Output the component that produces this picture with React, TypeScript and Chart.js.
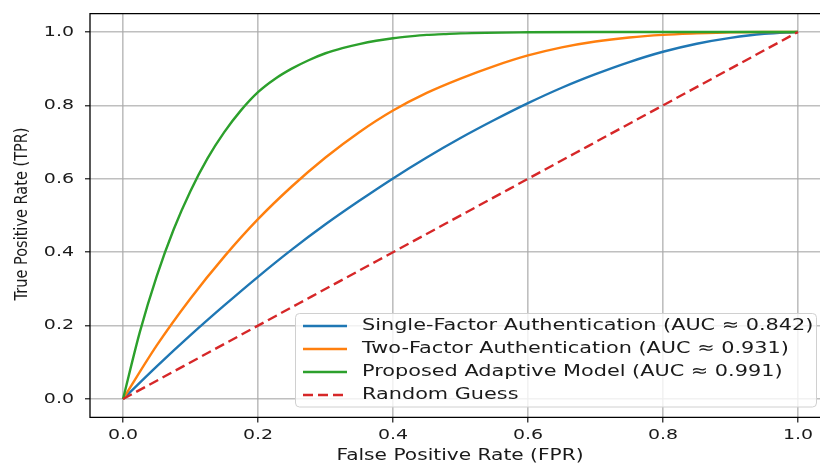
import React, { useEffect, useRef } from 'react';
import { Chart, registerables } from 'chart.js';

Chart.register(...registerables);

// ---- data ----
const tickValues = [0, 0.2, 0.4, 0.6, 0.8, 1.0];
const tickLabels = ['0.0', '0.2', '0.4', '0.6', '0.8', '1.0'];

const fprSingle = [0, 0.05, 0.1, 0.15, 0.2, 0.25, 0.3, 0.35, 0.4, 0.45, 0.5, 0.55, 0.6, 0.65, 0.7, 0.75, 0.8, 0.85, 0.9, 0.95, 1.0];
const tprSingle = [0, 0.089, 0.174, 0.255, 0.333, 0.407, 0.476, 0.540, 0.601, 0.658, 0.711, 0.760, 0.806, 0.848, 0.885, 0.918, 0.946, 0.968, 0.984, 0.995, 1.0];

const fprTwo = [0, 0.05, 0.1, 0.15, 0.2, 0.25, 0.3, 0.35, 0.4, 0.45, 0.5, 0.55, 0.6, 0.65, 0.7, 0.75, 0.8, 0.85, 0.9, 0.95, 1.0];
const tprTwo = [0, 0.146, 0.274, 0.388, 0.490, 0.579, 0.658, 0.727, 0.786, 0.834, 0.873, 0.907, 0.936, 0.958, 0.974, 0.985, 0.992, 0.996, 0.999, 1.0, 1.0];

const fprAdaptive = [0, 0.025, 0.05, 0.075, 0.1, 0.125, 0.15, 0.175, 0.2, 0.225, 0.25, 0.275, 0.3, 0.325, 0.35, 0.375, 0.4, 0.425, 0.45, 0.475, 0.5, 0.6, 0.7, 0.8, 0.9, 1.0];
const tprAdaptive = [0, 0.183, 0.335, 0.462, 0.567, 0.655, 0.727, 0.787, 0.836, 0.872, 0.900, 0.923, 0.942, 0.956, 0.967, 0.976, 0.983, 0.988, 0.992, 0.994, 0.996, 0.999, 1.0, 1.0, 1.0, 1.0];

const fprRandom = [0, 1];
const tprRandom = [0, 1];

const seriesLabels = [
  'Single-Factor Authentication (AUC \u2248 0.842)',
  'Two-Factor Authentication (AUC \u2248 0.931)',
  'Proposed Adaptive Model (AUC \u2248 0.991)',
  'Random Guess',
];
const seriesColors = ['#1f77b4', '#ff7f0e', '#2ca02c', '#d62728'];

const xTitle = 'False Positive Rate (FPR)';
const yTitle = 'True Positive Rate (TPR)';

const FONT = "'DejaVu Sans', sans-serif";
const STRETCH = 1.3;

function pts(xs: number[], ys: number[]) {
  return xs.map((x, i) => ({ x, y: ys[i] }));
}

function drawText(ctx: CanvasRenderingContext2D, text: string, x: number, y: number, size: number, sx: number, align: CanvasTextAlign, rot = 0) {
  ctx.save();
  ctx.translate(x, y);
  if (rot) ctx.rotate(rot);
  ctx.scale(sx, 1);
  ctx.font = `${size}px ${FONT}`;
  ctx.fillStyle = '#1a1a1a';
  ctx.textAlign = align;
  ctx.textBaseline = 'middle';
  ctx.fillText(text, 0, 0);
  ctx.restore();
}

const decorPlugin = {
  id: 'decor',
  afterDatasetsDraw(chart: any) {
    const { ctx, chartArea: a } = chart;
    ctx.save();
    ctx.strokeStyle = '#000';
    ctx.lineWidth = 1.3;
    ctx.beginPath();
    ctx.moveTo(a.right + 2, a.top);
    ctx.lineTo(a.left, a.top);
    ctx.lineTo(a.left, a.bottom);
    ctx.lineTo(a.right + 2, a.bottom);
    ctx.stroke();
    ctx.restore();
  },
  afterDraw(chart: any) {
    const { ctx, chartArea: a, scales } = chart;
    // tick labels
    tickValues.forEach((v, i) => {
      drawText(ctx, tickLabels[i], scales.x.getPixelForValue(v), a.bottom + 17.5, 14.6, STRETCH, 'center');
      drawText(ctx, tickLabels[i], a.left - 16, scales.y.getPixelForValue(v), 14.6, STRETCH, 'right');
    });
    // axis titles
    drawText(ctx, xTitle, 460, 456, 15.5, STRETCH, 'center');
    drawText(ctx, yTitle, 22, 214, 17.5, 0.83, 'center', -Math.PI / 2);

    // legend
    const bx = 295.5, by = 313.5, bw = 521, bh = 93.5, r = 4;
    ctx.save();
    ctx.beginPath();
    ctx.moveTo(bx + r, by);
    ctx.lineTo(bx + bw - r, by);
    ctx.quadraticCurveTo(bx + bw, by, bx + bw, by + r);
    ctx.lineTo(bx + bw, by + bh - r);
    ctx.quadraticCurveTo(bx + bw, by + bh, bx + bw - r, by + bh);
    ctx.lineTo(bx + r, by + bh);
    ctx.quadraticCurveTo(bx, by + bh, bx, by + bh - r);
    ctx.lineTo(bx, by + r);
    ctx.quadraticCurveTo(bx, by, bx + r, by);
    ctx.closePath();
    ctx.fillStyle = 'rgba(255,255,255,0.8)';
    ctx.fill();
    ctx.strokeStyle = '#d0d0d0';
    ctx.lineWidth = 1;
    ctx.stroke();
    ctx.restore();

    chart.data.datasets.forEach((ds: any, i: number) => {
      const y = 326 + i * 23;
      ctx.save();
      ctx.strokeStyle = ds.borderColor;
      ctx.lineWidth = 2.3;
      ctx.setLineDash(ds.borderDash || []);
      ctx.beginPath();
      ctx.moveTo(303, y);
      ctx.lineTo(347, y);
      ctx.stroke();
      ctx.restore();
      drawText(ctx, ds.label, 362, y, 16, STRETCH, 'left');
    });
  },
};

export default function App() {
  const ref = useRef<HTMLCanvasElement>(null);
  useEffect(() => {
    document.body.style.margin = '0';
    const canvas = ref.current;
    if (!canvas) return;
    const gridColor = 'rgba(170,170,170,0.75)';
    const mkDs = (label: string, color: string, data: any[], order: number, dash?: number[]) => ({
      label,
      data,
      borderColor: color,
      backgroundColor: color,
      borderWidth: 2.4,
      borderDash: dash,
      pointRadius: 0,
      fill: false,
      order,
      cubicInterpolationMode: 'monotone' as const,
    });
    const chart = new Chart(canvas, {
      type: 'line',
      data: {
        datasets: [
          mkDs(seriesLabels[0], seriesColors[0], pts(fprSingle, tprSingle), 3),
          mkDs(seriesLabels[1], seriesColors[1], pts(fprTwo, tprTwo), 2),
          mkDs(seriesLabels[2], seriesColors[2], pts(fprAdaptive, tprAdaptive), 1),
          mkDs(seriesLabels[3], seriesColors[3], pts(fprRandom, tprRandom), 0, [10, 5]),
        ],
      },
      options: {
        responsive: false,
        animation: false,
        devicePixelRatio: 1,
        layout: { padding: { left: 0, top: 13.6, right: 0, bottom: 0 } },
        plugins: { legend: { display: false }, tooltip: { enabled: false } },
        scales: {
          x: {
            type: 'linear',
            min: -0.0489,
            max: 1.0326,
            afterBuildTicks: (s: any) => { s.ticks = tickValues.map((v) => ({ value: v })); },
            afterFit: (s: any) => { s.height = 46.6; },
            ticks: { display: false },
            grid: { color: gridColor, lineWidth: 1.6, drawTicks: true, tickLength: 5, tickColor: '#000', tickWidth: 1.1 },
            border: { display: false },
          },
          y: {
            type: 'linear',
            min: -0.05,
            max: 1.05,
            afterBuildTicks: (s: any) => { s.ticks = tickValues.map((v) => ({ value: v })); },
            afterFit: (s: any) => { s.width = 90; },
            ticks: { display: false },
            grid: { color: gridColor, lineWidth: 1.6, drawTicks: true, tickLength: 5, tickColor: '#000', tickWidth: 1.1 },
            border: { display: false },
          },
        },
      },
      plugins: [decorPlugin],
    } as any);
    return () => chart.destroy();
  }, []);
  return (
    <div style={{ width: 820, height: 464 }}>
      <canvas ref={ref} width={820} height={464} style={{ display: 'block' }} />
    </div>
  );
}
